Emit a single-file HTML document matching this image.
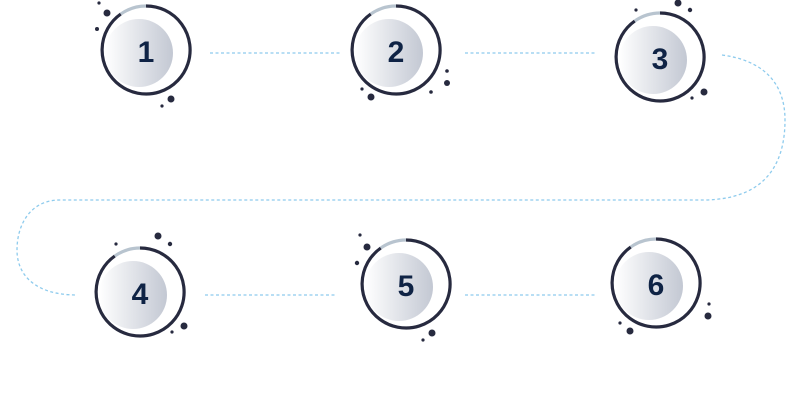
<!DOCTYPE html>
<html><head><style>html,body{margin:0;padding:0;background:#fff;width:804px;height:404px;overflow:hidden}</style></head>
<body>
<svg width="804" height="404" viewBox="0 0 804 404" xmlns="http://www.w3.org/2000/svg">
<defs>
<linearGradient id="g" x1="0" y1="0" x2="1" y2="0">
<stop offset="0" stop-color="#ffffff"/><stop offset="1" stop-color="#c3c8d3"/>
</linearGradient>
</defs>
<g fill="none" stroke="#8ecbed" stroke-width="1.3" stroke-dasharray="3,2.5">
<path d="M210 53 H340"/><path d="M465 53 H595"/>
<path d="M205 295 H336"/><path d="M465 295 H595"/>
<path d="M722 55 C760 60 785 80 785 120 C785 170 760 199 705 200 H60 C30 200 17 225 17 250 C17 275 35 295 77 295"/>
</g>
<g font-family="Liberation Sans, sans-serif" font-weight="bold" font-size="30" fill="#0f2345" text-anchor="middle">
<!-- 1 -->
<circle cx="139" cy="53" r="34" fill="url(#g)"/>
<path d="M146 6 A44 44 0 1 1 120.8 14" fill="none" stroke="#272a3f" stroke-width="3.2"/>
<path d="M120.8 14 A44 44 0 0 1 146 6" fill="none" stroke="#b8c4cf" stroke-width="3.2"/>
<text x="146" y="62">1</text>
<!-- 2 -->
<circle cx="389" cy="53" r="34" fill="url(#g)"/>
<path d="M396 6 A44 44 0 1 1 370.8 14" fill="none" stroke="#272a3f" stroke-width="3.2"/>
<path d="M370.8 14 A44 44 0 0 1 396 6" fill="none" stroke="#b8c4cf" stroke-width="3.2"/>
<text x="396" y="62">2</text>
<!-- 3 -->
<circle cx="653" cy="60" r="34" fill="url(#g)"/>
<path d="M660 13 A44 44 0 1 1 634.8 21" fill="none" stroke="#272a3f" stroke-width="3.2"/>
<path d="M634.8 21 A44 44 0 0 1 660 13" fill="none" stroke="#b8c4cf" stroke-width="3.2"/>
<text x="660" y="69">3</text>
<!-- 4 -->
<circle cx="133" cy="295" r="34" fill="url(#g)"/>
<path d="M140 248 A44 44 0 1 1 114.8 256" fill="none" stroke="#272a3f" stroke-width="3.2"/>
<path d="M114.8 256 A44 44 0 0 1 140 248" fill="none" stroke="#b8c4cf" stroke-width="3.2"/>
<text x="140" y="304">4</text>
<!-- 5 -->
<circle cx="399" cy="287" r="34" fill="url(#g)"/>
<path d="M406 240 A44 44 0 1 1 380.8 248" fill="none" stroke="#272a3f" stroke-width="3.2"/>
<path d="M380.8 248 A44 44 0 0 1 406 240" fill="none" stroke="#b8c4cf" stroke-width="3.2"/>
<text x="406" y="296">5</text>
<!-- 6 -->
<circle cx="649" cy="286" r="34" fill="url(#g)"/>
<path d="M656 239 A44 44 0 1 1 630.8 247" fill="none" stroke="#272a3f" stroke-width="3.2"/>
<path d="M630.8 247 A44 44 0 0 1 656 239" fill="none" stroke="#b8c4cf" stroke-width="3.2"/>
<text x="656" y="295">6</text>
</g>
<g fill="#272a3f">
<circle cx="99" cy="3" r="1.6"/><circle cx="107" cy="13" r="3.5"/><circle cx="97" cy="29" r="2"/><circle cx="171" cy="99" r="3.5"/><circle cx="162" cy="106" r="1.6"/>
<circle cx="447" cy="71" r="1.8"/><circle cx="447" cy="83" r="3"/><circle cx="431" cy="92" r="1.8"/><circle cx="371" cy="97" r="3.5"/><circle cx="362" cy="89" r="1.6"/>
<circle cx="636" cy="10" r="1.6"/><circle cx="678" cy="3" r="3.5"/><circle cx="690" cy="10" r="2.2"/><circle cx="704" cy="92" r="3.5"/><circle cx="692" cy="98" r="1.6"/>
<circle cx="116" cy="244" r="1.6"/><circle cx="158" cy="236" r="3.5"/><circle cx="170" cy="244" r="2.2"/><circle cx="184" cy="326" r="3.5"/><circle cx="172" cy="332" r="1.6"/>
<circle cx="360" cy="235" r="1.6"/><circle cx="367" cy="247" r="3.5"/><circle cx="357" cy="263" r="2.2"/><circle cx="432" cy="333" r="3.5"/><circle cx="423" cy="340" r="1.6"/>
<circle cx="709" cy="304" r="1.6"/><circle cx="708" cy="316" r="3.5"/><circle cx="630" cy="331" r="3.5"/><circle cx="620" cy="323" r="1.6"/>
</g>
</svg>
</body></html>
